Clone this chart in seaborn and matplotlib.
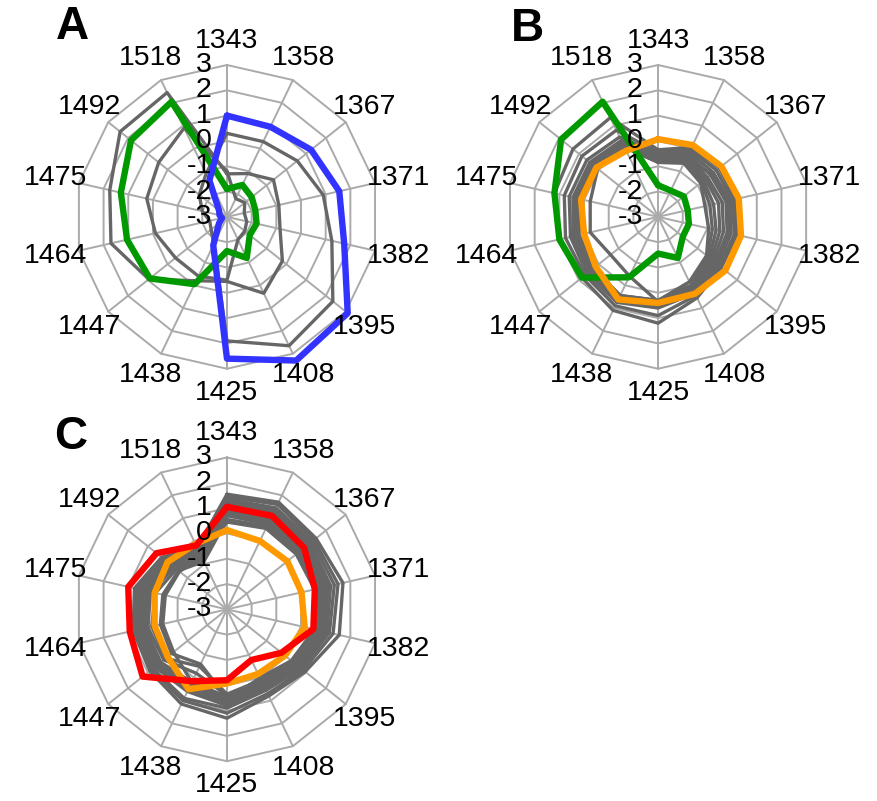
import numpy as np
import matplotlib
matplotlib.use('Agg')
import matplotlib.pyplot as plt
import seaborn as sns

# residue positions around the wheel (clockwise from top)
sites = ['1343', '1358', '1367', '1371', '1382', '1395', '1408',
         '1425', '1438', '1447', '1464', '1475', '1492', '1518']
levels = [-3, -2, -1, 0, 1, 2, 3]

# panel A
a_blue = [1.0, 0.95, 1.25, 1.55, 1.75, 3.1, 3.3, 2.6, -1.75, -2.6, -2.8, -2.7, -2.6, -1.4]
a_green = [-1.9, -1.6, -1.75, -1.85, -1.8, -1.85, -1.2, -1.65, -0.05, 0.9, 1.05, 1.3, 1.85, 2.05]
a_grey = [
    [-1.3, -1.1, -0.65, -0.9, -0.85, -0.2, 0.35, -0.45, -0.2, 0.95, 1.7, 1.75, 2.4, 2.45],
    [0.3, 0.3, 0.55, 0.9, 1.25, 2.35, 2.65, 1.9, -1.8, -2.2, -2.3, -2.0, -1.6, -1.1],
    [-1.2, -2.2, -2.1, -2.3, -2.2, -2.1, -2.0, -0.5, -0.4, -0.4, -0.1, 0.25, 0.45, 0.9],
]

# panel B
b_green = [-1.75, -1.85, -1.7, -1.8, -1.75, -1.75, -1.2, -1.55, -0.35, 0.85, 1.0, 1.2, 1.9, 2.05]
b_orange = [0.07, 0.15, 0.2, 0.27, 0.36, 0.4, 0.37, 0.4, 0.62, 0.15, 0.0, 0.12, 0.12, -0.1]
b_grey = [
    [-0.35, 0.05, 0.1, 0.1, 0.2, 0.2, 0.55, 1.2, 1.1, 0.85, 0.95, 1.2, 1.3, 1.35],
    [-0.45, -0.05, -0.05, 0.0, 0.1, 0.1, 0.45, 0.9, 0.9, 0.7, 0.75, 0.8, 0.85, 0.8],
    [-0.5, -0.15, -0.2, -0.1, -0.05, 0.0, 0.35, 0.6, 0.75, 0.6, 0.55, 0.6, 0.6, 0.5],
    [-0.6, -0.25, -0.35, -0.25, -0.2, -0.1, 0.3, 0.5, 0.65, 0.5, 0.45, 0.45, 0.45, 0.35],
    [-0.65, -0.35, -0.5, -0.4, -0.35, -0.2, 0.2, 0.45, 0.55, 0.45, 0.4, 0.4, 0.35, 0.25],
    [-0.7, -0.45, -0.6, -0.55, -0.5, -0.3, 0.15, 0.4, 0.5, 0.4, 0.35, 0.3, 0.3, 0.2],
    [-0.75, -0.55, -0.7, -0.75, -0.65, -0.4, 0.1, 0.35, 0.55, 0.35, 0.3, 0.25, 0.25, 0.15],
    [-0.8, -0.6, -0.8, -0.9, -0.8, -0.5, 0.0, 0.3, 0.45, 0.3, 0.25, 0.2, 0.2, 0.1],
    [-0.85, -0.65, -0.85, -1.1, -0.95, -0.55, -0.15, 0.3, 0.45, 0.25, 0.2, 0.15, 0.15, 0.05],
    [-0.5, -0.4, -0.3, -0.2, -0.1, 0.0, 0.2, 0.35, -0.4, -0.6, -0.25, -0.25, 0.05, 0.0],
]

# panel C
c_red = [1.05, 1.1, 0.9, 0.56, 0.5, -0.25, -0.78, -0.2, 0.15, 1.26, 0.94, 1.0, 0.56, -0.2]
c_orange = [0.13, 0.0, 0.05, 0.02, 0.15, -0.07, -0.17, -0.07, 0.5, 0.0, -0.07, -0.07, 0.0, -0.13]
c_grey = [
    [1.55, 1.7, 1.5, 1.7, 1.55, 0.95, 0.8, 1.3, 1.15, 0.9, 0.8, 0.75, 0.3, -0.3],
    [1.45, 1.6, 1.4, 1.5, 1.3, 0.85, 0.7, 1.1, 1.0, 0.8, 0.7, 0.7, 0.2, -0.4],
    [1.35, 1.45, 1.3, 1.35, 1.15, 0.75, 0.55, 0.9, 0.9, 0.75, 0.65, 0.6, 0.1, -0.5],
    [1.3, 1.35, 1.2, 1.2, 1.05, 0.7, 0.45, 0.8, 0.6, 0.65, 0.55, 0.5, 0.0, -0.55],
    [1.2, 1.25, 1.1, 1.1, 0.95, 0.6, 0.4, 0.7, 0.5, 0.55, 0.5, 0.45, -0.1, -0.6],
    [1.1, 1.15, 1.05, 1.0, 0.9, 0.55, 0.3, 0.6, 0.4, 0.5, 0.4, 0.4, -0.15, -0.65],
    [1.0, 1.05, 0.95, 0.9, 0.8, 0.5, 0.25, 0.55, 0.3, 0.4, 0.35, 0.3, -0.2, -0.7],
    [0.9, 0.95, 0.85, 0.85, 0.75, 0.45, 0.2, 0.45, 0.2, 0.35, 0.3, 0.2, -0.3, -0.75],
    [0.8, 0.85, 0.8, 0.75, 0.7, 0.4, 0.15, 0.4, -0.2, 0.2, 0.2, 0.1, -0.35, -0.8],
    [0.7, 0.75, 0.7, 0.7, 0.65, 0.35, 0.1, 0.35, -0.5, 0.1, 0.05, -0.1, -0.45, -0.85],
    [0.55, 0.65, 0.6, 0.65, 0.6, 0.3, 0.05, 0.5, -0.6, -0.2, -0.3, -0.4, -0.55, -0.9],
    [0.45, 0.55, 0.5, 0.55, 0.55, 0.25, 0.0, 0.6, 0.2, -0.3, -0.4, -0.5, -0.6, -0.7],
]

sns.set_style('white')
plt.rcParams['font.family'] = ['Liberation Sans', 'DejaVu Sans']
plt.rcParams['text.color'] = 'black'

angles = np.linspace(0, 2 * np.pi, len(sites), endpoint=False)
closed = np.append(angles, angles[0])


def loop(vals):
    return np.append(vals, vals[0])


def radar(ax, grey_lines, coloured):
    ax.set_theta_zero_location('N')
    ax.set_theta_direction(-1)
    ax.set_ylim(-3, 3.4)
    ax.grid(False)
    ax.set_xticks([])
    ax.set_yticks([])
    ax.spines['polar'].set_visible(False)

    # polygon web
    for lvl in levels[1:]:
        ax.plot(closed, [lvl] * len(closed), color='#aaaaaa', lw=1.4, zorder=1)
    for a in angles:
        ax.plot([a, a], [levels[0], levels[-1]], color='#aaaaaa', lw=1.4, zorder=1)

    for vals in grey_lines:
        sns.lineplot(x=closed, y=loop(vals), sort=False, estimator=None,
                     color='#666666', lw=2.4, ax=ax, zorder=2)
    for vals, col in coloured:
        sns.lineplot(x=closed, y=loop(vals), sort=False, estimator=None,
                     color=col, lw=4.6, ax=ax, zorder=3)
    for ln in ax.lines:
        ln.set_clip_on(False)
    ax.set_xlabel('')
    ax.set_ylabel('')

    for a, s in zip(angles, sites):
        ax.text(a, 3.95, s, ha='center', va='center', fontsize=20.5, color='black')
    for lvl in levels:
        ax.annotate(str(lvl), xy=(0, lvl), xytext=(-11, 0), textcoords='offset points',
                    ha='right', va='center', fontsize=20.5, color='black', zorder=5)


fig = plt.figure(figsize=(8.78, 8.01), dpi=100)
w, h = 324 / 878, 324 / 801
ax_a = fig.add_axes([0.074, 0.527, w, h], projection='polar')
ax_b = fig.add_axes([0.565, 0.527, w, h], projection='polar')
ax_c = fig.add_axes([0.074, 0.037, w, h], projection='polar')

radar(ax_a, a_grey, [(a_green, '#009900'), (a_blue, '#3333ff')])
radar(ax_b, b_grey, [(b_green, '#009900'), (b_orange, '#ff9900')])
radar(ax_c, c_grey, [(c_orange, '#ff9900'), (c_red, '#ff0000')])

for x, y, letter in [(72, 27, 'A'), (527, 29, 'B'), (71, 437, 'C')]:
    fig.text(x / 878, 1 - y / 801, letter, fontsize=33, fontweight='bold',
             ha='center', va='center', color='black')

fig.savefig('out.png', dpi=100)
